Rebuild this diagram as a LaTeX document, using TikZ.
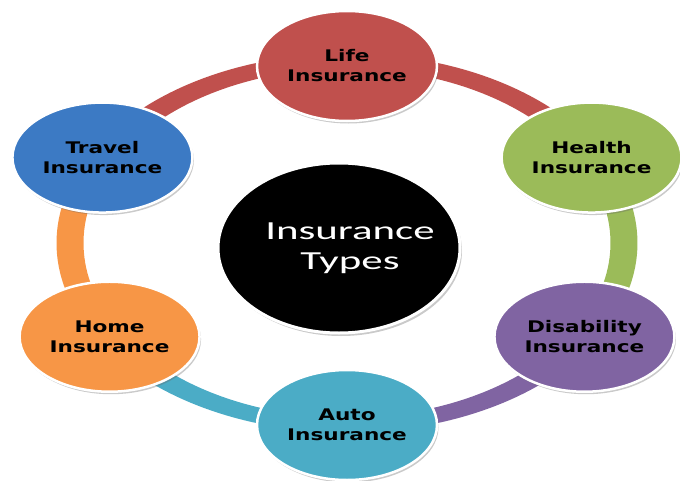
\documentclass[tikz,border=0pt]{standalone}
\usepackage{fontspec}
\usetikzlibrary{shapes.geometric,shadows}
\newfontfamily\itemfont[FakeStretch=1.35]{DejaVu Sans}
\newfontfamily\hubfont[FakeStretch=1.65]{Carlito}
\definecolor{lifered}{RGB}{192,80,77}
\definecolor{healthgreen}{RGB}{155,187,89}
\definecolor{disabpurple}{RGB}{128,100,162}
\definecolor{autoteal}{RGB}{75,172,198}
\definecolor{homeorange}{RGB}{247,150,70}
\definecolor{travelblue}{RGB}{60,122,196}
% one coloured piece of the ring, from angle #2 to angle #3
\newcommand\ringseg[3]{\fill[#1] (#2:290.5 and 189.5) arc[start angle=#2, end angle=#3, x radius=290.5, y radius=189.5] -- (#3:263.5 and 174.5) arc[start angle=#3, end angle=#2, x radius=263.5, y radius=174.5] -- cycle;}
\tikzset{
  insitem/.style={ellipse, draw=white, line width=2.5pt, minimum width=180pt, minimum height=110pt,
    inner sep=0pt, align=center, text=black, font={\itemfont\bfseries\fontsize{16}{20}\selectfont},
    drop shadow={shadow xshift=1.5pt, shadow yshift=-2.5pt, opacity=0.35, fill=black!60}},
  hub/.style={ellipse, fill=black, draw=white, line width=3pt, minimum width=242pt, minimum height=170pt,
    inner sep=0pt, drop shadow={shadow xshift=2pt, shadow yshift=-3pt, opacity=0.35, fill=black!60}},
  hubtext/.style={align=center, text=white, inner sep=0pt, font={\hubfont\fontsize{26}{30}\selectfont}}
}
\begin{document}
\begin{tikzpicture}[x=1pt,y=1pt]
\useasboundingbox (-347,-237) rectangle (333,243);
%Ring
\ringseg{lifered}{152}{90}
\ringseg{lifered}{90}{28}
\ringseg{healthgreen}{28}{-30}
\ringseg{disabpurple}{-30}{-90}
\ringseg{autoteal}{270}{210}
\ringseg{homeorange}{210}{152}
%Shape: Ellipses
\node[insitem, fill=lifered] (life) at (0,177) {Life\\Insurance};
\node[insitem, fill=healthgreen] (health) at (28:277 and 182) {Health\\Insurance};
\node[insitem, fill=disabpurple] (disability) at (-31:277 and 182) {Disability\\Insurance};
\node[insitem, fill=autoteal] (auto) at (-90:277 and 182) {Auto\\Insurance};
\node[insitem, fill=homeorange] (home) at (211:277 and 182) {Home\\Insurance};
\node[insitem, fill=travelblue] (travel) at (152:277 and 182) {Travel\\Insurance};
%Shape: Hub
\node[hub] (types) at (-8,-5) {};
% Text Node
\node[hubtext] (typeslabel) at ([xshift=11pt]types.center) {Insurance\\Types};
\end{tikzpicture}
\end{document}
